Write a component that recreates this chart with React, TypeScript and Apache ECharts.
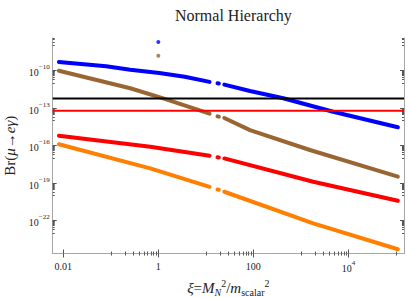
import React, { useEffect, useRef } from 'react';
import * as echarts from 'echarts';

const TITLE = 'Normal Hierarchy';
const X_MIN = 0.006;
const X_MAX = 1.48e5;
const Y_MIN = 2.3e-25;
const Y_MAX = 4e-8;

const xMajorTicks = [0.01, 1, 100, 1e4];
const xTickLabels = ['0.01', '1', '100', '10^4'];
const xMinorTicks = [
  0.1, 0.2, 0.3, 0.4, 0.5, 0.6, 0.7, 0.8, 0.9,
  10, 20, 30, 40, 50, 60, 70, 80, 90,
  1000, 2000, 3000, 4000, 5000, 6000, 7000, 8000, 9000,
  1e5,
];
const yMajorTicks = [1e-22, 1e-19, 1e-16, 1e-13, 1e-10];
const yTickLabels = ['10^−22', '10^−19', '10^−16', '10^−13', '10^−10'];
const minorMultipliers = [1, 2, 3, 4, 5, 6, 7, 8, 9];
const yMinorDecades = [-23, -20, -17, -14, -11, -8];

type Pt = [number, number] | null;

const blueCurve: Pt[] = [
  [0.0081, 4.8e-10], [0.08, 2.2e-10], [0.257, 1.15e-10], [1.05, 6.4e-11], [3.6, 3.2e-11], [12, 1.23e-11], null,
  [17.6, 9.6e-12], [18.8, 9.3e-12], null,
  [24.5, 7.4e-12], [85, 2.3e-12], [427, 6.0e-13], [4790, 5.0e-14], [1.1e5, 2.9e-15],
];
const brownCurve: Pt[] = [
  [0.0081, 9.5e-11], [0.257, 3.8e-12], [1.27, 6.0e-13], [12, 3.5e-14], null,
  [17.6, 2.15e-14], [18.8, 2.05e-14], null,
  [24.5, 1.6e-14], [85, 1.7e-15], [1550, 4.4e-17], [1.1e5, 3.2e-19],
];
const redCurve: Pt[] = [
  [0.0081, 6.0e-16], [0.676, 7.9e-17], [12, 1.5e-17], null,
  [17.6, 1.15e-17], [18.8, 1.1e-17], null,
  [24.5, 9.3e-18], [1820, 1.26e-19], [1.1e5, 3.8e-21],
];
const orangeCurve: Pt[] = [
  [0.0081, 1.26e-16], [0.676, 1.5e-18], [12, 5.0e-20], null,
  [17.6, 3.0e-20], [18.8, 2.9e-20], null,
  [24.5, 2.0e-20], [1820, 6.0e-23], [1.1e5, 5.0e-25],
];
const bluePoint: [number, number][] = [[1, 1.9e-8]];
const brownPoint: [number, number][] = [[1, 1.5e-9]];

const megBound = 5.7e-13;
const megUpgrade = 6.0e-14;

const SERIF = '"Liberation Serif", "DejaVu Serif", serif';
const FRAME = '#a6a6a6';
const TICK = '#555555';
const TEXT = '#222222';

export default function App() {
  const ref = useRef<HTMLDivElement>(null);
  useEffect(() => {
    if (!ref.current) return;
    const chart = echarts.init(ref.current, undefined, { renderer: 'svg' });
    const yMinorTicks = yMinorDecades.flatMap((d) => minorMultipliers.map((m) => m * Math.pow(10, d)));

    const supRich = {
      b: { fontSize: 10, fontFamily: SERIF, color: TEXT, lineHeight: 14, verticalAlign: 'bottom' },
      s: { fontSize: 7, fontFamily: SERIF, color: TEXT, lineHeight: 8, verticalAlign: 'top' },
      n: { fontSize: 10, fontFamily: SERIF, color: TEXT, lineHeight: 14 },
    };
    const fmtTick = (values: number[], labels: string[]) => (v: number) => {
      let idx = -1;
      values.forEach((t, i) => { if (Math.abs(Math.log10(t) - Math.log10(v)) < 1e-6) idx = i; });
      if (idx < 0) return '';
      const lab = labels[idx];
      if (lab.includes('^')) {
        const [b, s] = lab.split('^');
        return `{b|${b}}{s|${s}}`;
      }
      return `{n|${lab}}`;
    };

    const axisBase = (kind: 'x' | 'y') => ({
      type: 'log' as const,
      min: kind === 'x' ? X_MIN : Y_MIN,
      max: kind === 'x' ? X_MAX : Y_MAX,
      splitLine: { show: false },
      minorTick: { show: false },
    });
    const majorAxis = (kind: 'x' | 'y', position: string, labels: boolean) => ({
      ...axisBase(kind),
      position,
      axisLine: { show: true, lineStyle: { color: FRAME, width: 1 } },
      axisTick: {
        show: true, inside: true, length: 4,
        customValues: kind === 'x' ? xMajorTicks : yMajorTicks,
        lineStyle: { color: TICK, width: 1 },
      },
      axisLabel: labels
        ? {
            show: true,
            customValues: kind === 'x' ? xMajorTicks : yMajorTicks,
            formatter: kind === 'x' ? fmtTick(xMajorTicks, xTickLabels) : fmtTick(yMajorTicks, yTickLabels),
            rich: supRich,
            margin: kind === 'x' ? 6 : 3,
          }
        : { show: false },
    });
    const minorAxis = (kind: 'x' | 'y', position: string) => ({
      ...axisBase(kind),
      position,
      axisLine: { show: false },
      axisTick: {
        show: true, inside: true, length: 2,
        customValues: kind === 'x' ? xMinorTicks : yMinorTicks,
        lineStyle: { color: TICK, width: 1 },
      },
      axisLabel: { show: false },
    });

    const curve = (name: string, data: Pt[], color: string) => ({
      name,
      type: 'line',
      data,
      xAxisIndex: 0,
      yAxisIndex: 0,
      showSymbol: false,
      connectNulls: false,
      smooth: false,
      lineStyle: { color, width: 4, cap: 'round', join: 'round' },
      z: 3,
    });
    const hLine = (name: string, value: number, color: string) => ({
      name,
      type: 'line',
      data: [[X_MIN, value], [X_MAX, value]],
      showSymbol: false,
      lineStyle: { color, width: 2 },
      z: 5,
    });

    chart.setOption({
      animation: false,
      backgroundColor: '#ffffff',
      title: {
        text: TITLE,
        left: 228.4,
        top: 2,
        textAlign: 'center',
        textStyle: { fontFamily: SERIF, fontSize: 16, fontWeight: 'normal', color: TEXT },
      },
      grid: { left: 52.7, right: 5, top: 38, bottom: 43.5, containLabel: false, outerBoundsMode: 'none' },
      xAxis: [
        {
          ...majorAxis('x', 'bottom', true),
          name: '{i|ξ}{r|=}{i|M}{sub|N}{sup|2}{r|/}{i|m}{subr|scalar}{sup|2}',
          nameLocation: 'middle',
          nameGap: 17,
          nameTextStyle: {
            rich: {
              i: { fontFamily: SERIF, fontSize: 15, fontStyle: 'italic', color: TEXT, lineHeight: 19, verticalAlign: 'middle' },
              r: { fontFamily: SERIF, fontSize: 15, color: TEXT, lineHeight: 19, verticalAlign: 'middle' },
              sub: { fontFamily: SERIF, fontSize: 10, fontStyle: 'italic', color: TEXT, lineHeight: 9, verticalAlign: 'bottom' },
              subr: { fontFamily: SERIF, fontSize: 10, color: TEXT, lineHeight: 9, verticalAlign: 'bottom' },
              sup: { fontFamily: SERIF, fontSize: 10, color: TEXT, lineHeight: 9, verticalAlign: 'top' },
            },
          },
        },
        minorAxis('x', 'bottom'),
        majorAxis('x', 'top', false),
        minorAxis('x', 'top'),
      ],
      yAxis: [
        {
          ...majorAxis('y', 'left', true),
          name: '{r|Br(}{i|μ}{r|→}{i|eγ}{r|)}',
          nameLocation: 'middle',
          nameRotate: 90,
          nameGap: 33,
          nameTextStyle: {
            rich: {
              i: { fontFamily: SERIF, fontSize: 15, fontStyle: 'italic', color: TEXT },
              r: { fontFamily: SERIF, fontSize: 15, color: TEXT },
            },
          },
        },
        minorAxis('y', 'left'),
        majorAxis('y', 'right', false),
        minorAxis('y', 'right'),
      ],
      series: [
        curve('blue', blueCurve, '#0000ff'),
        curve('brown', brownCurve, '#996633'),
        curve('red', redCurve, '#ff0000'),
        curve('orange', orangeCurve, '#ff8000'),
        {
          type: 'scatter', data: bluePoint, symbolSize: 4,
          itemStyle: { color: '#0000ff' }, z: 4,
        },
        {
          type: 'scatter', data: brownPoint, symbolSize: 4,
          itemStyle: { color: '#996633' }, z: 4,
        },
        hLine('MEG bound', megBound, '#000000'),
        hLine('MEG upgrade', megUpgrade, '#ff0000'),
      ],
    });
    return () => chart.dispose();
  }, []);
  return <div ref={ref} style={{ width: 409, height: 297, position: 'absolute', left: 0, top: 0 }} />;
}
